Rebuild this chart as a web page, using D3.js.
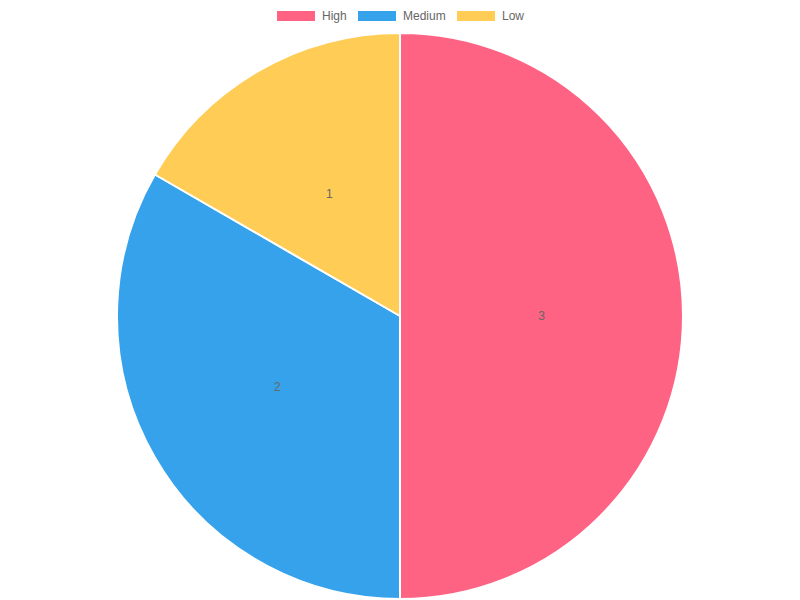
<!DOCTYPE html>
<html>
<head>
<meta charset="utf-8">
<script src="https://cdn.jsdelivr.net/npm/d3@7"></script>
<style>
  body { margin: 0; background: #fff; }
  svg { display: block; }
</style>
</head>
<body>
<script>
var labels = ["High", "Medium", "Low"];
var values = [3, 2, 1];
var colors = ["rgb(255,99,132)", "rgb(54,162,235)", "rgb(255,205,86)"];

var width = 800, height = 600;
var cx = 400, cy = 316, radius = 283;
var font = "'Liberation Sans', Arial, Helvetica, sans-serif";

var svg = d3.select("body").append("svg")
  .attr("width", width)
  .attr("height", height);

// legend
var legendX = [277, 358, 457];
var legend = svg.append("g");
labels.forEach(function (lab, i) {
  legend.append("rect")
    .attr("x", legendX[i]).attr("y", 11)
    .attr("width", 38).attr("height", 10)
    .attr("fill", colors[i]);
  legend.append("text")
    .attr("x", legendX[i] + 45).attr("y", 20)
    .attr("font-family", font).attr("font-size", 12)
    .attr("fill", "#666")
    .text(lab);
});

var pie = d3.pie().sort(null).value(function (d) { return d; });
var arc = d3.arc().innerRadius(0).outerRadius(radius);
var labelArc = d3.arc().innerRadius(radius / 2).outerRadius(radius / 2);

var g = svg.append("g").attr("transform", "translate(" + cx + "," + cy + ")");
var arcs = pie(values);

g.selectAll("path").data(arcs).enter().append("path")
  .attr("d", arc)
  .attr("fill", function (d, i) { return colors[i]; })
  .attr("stroke", "#fff")
  .attr("stroke-width", 2)
  .attr("stroke-linejoin", "bevel");

g.selectAll("text.val").data(arcs).enter().append("text")
  .attr("class", "val")
  .attr("transform", function (d) { return "translate(" + labelArc.centroid(d) + ")"; })
  .attr("text-anchor", "middle")
  .attr("dy", "0.35em")
  .attr("font-family", font).attr("font-size", 12)
  .attr("fill", "#666")
  .text(function (d) { return d.data; });
</script>
</body>
</html>
